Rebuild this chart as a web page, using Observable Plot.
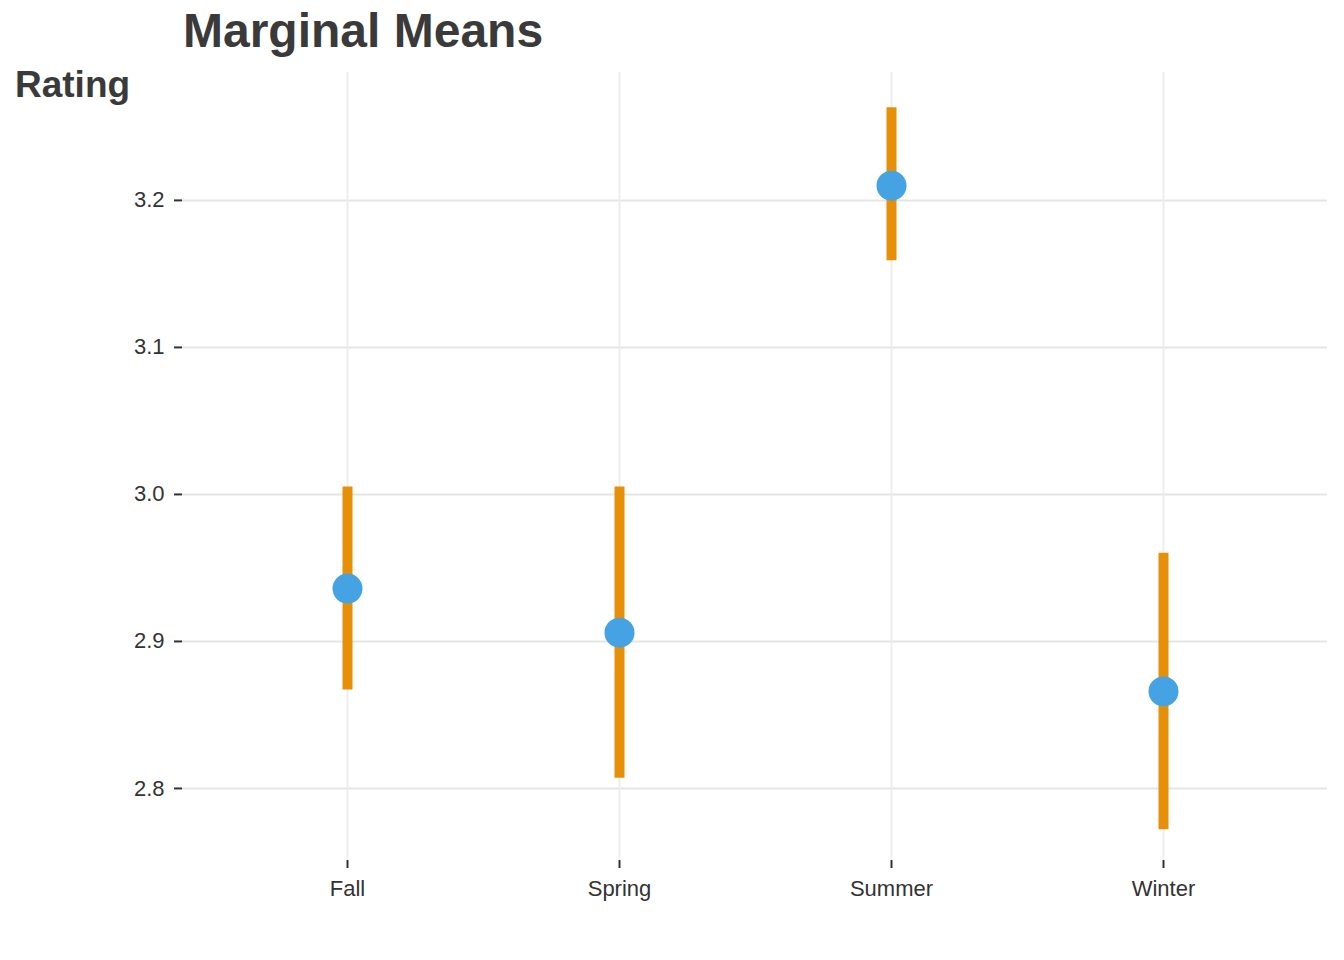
<!DOCTYPE html>
<html>
<head>
<meta charset="utf-8">
<script src="https://cdn.jsdelivr.net/npm/d3@7"></script>
<script src="https://cdn.jsdelivr.net/npm/@observablehq/plot@0.6"></script>
<style>
  body { margin: 0; background: #fff; font-family: "Liberation Sans", Arial, sans-serif; }
  #wrap { position: relative; width: 1344px; height: 960px; }
  #title { position: absolute; left: 183px; top: 3px; font-size: 48px; font-weight: bold; color: #3a3a3a; }
  #ylab { position: absolute; left: 15px; top: 64px; font-size: 37px; font-weight: bold; color: #3a3a3a; }
  #chart g[aria-label$="tick"] path { stroke-width: 2; stroke: #333; }
</style>
</head>
<body>
<div id="wrap">
  <div id="chart"></div>
  <div id="title">Marginal Means</div>
  <div id="ylab">Rating</div>
</div>
<script>
const seasons = ["Fall", "Spring", "Summer", "Winter"];
const means = [2.936, 2.906, 3.210, 2.866];
const lower = [2.867, 2.807, 3.159, 2.772];
const upper = [3.005, 3.005, 3.263, 2.960];
const yTicks = [2.8, 2.9, 3.0, 3.1, 3.2];

const data = seasons.map((s, i) => ({season: s, mean: means[i], lo: lower[i], hi: upper[i]}));

const chart = Plot.plot({
  width: 1344,
  height: 960,
  marginTop: 72,
  marginBottom: 100,
  marginLeft: 182,
  marginRight: 17,
  style: {fontFamily: "Liberation Sans, Arial, sans-serif", fontSize: "22px", color: "#333"},
  x: {type: "point", domain: seasons, padding: 0.6, label: null, tickSize: 8, tickPadding: 12},
  y: {domain: [2.751, 3.287], ticks: yTicks, tickFormat: d3.format(".1f"), label: null, tickSize: 8, tickPadding: 10},
  marks: [
    Plot.ruleY(yTicks, {stroke: "#e5e5e5", strokeWidth: 2}),
    Plot.ruleX(seasons, {stroke: "#eeeeee", strokeWidth: 2}),
    Plot.ruleX(data, {x: "season", y1: "lo", y2: "hi", stroke: "#e69009", strokeWidth: 10}),
    Plot.dot(data, {x: "season", y: "mean", r: 15, fill: "#46a3e3"})
  ]
});
document.getElementById("chart").append(chart);
</script>
</body>
</html>
